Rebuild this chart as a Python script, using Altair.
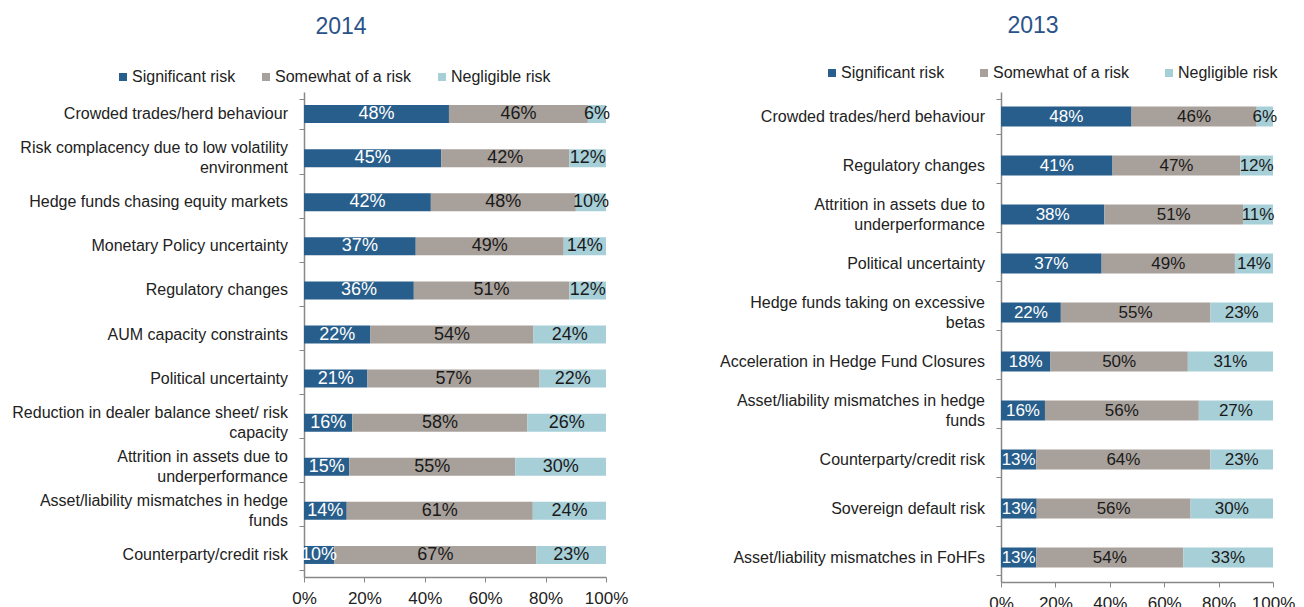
import altair as alt
import pandas as pd

risks = ["Significant risk", "Somewhat of a risk", "Negligible risk"]
colors = ["#285e8b", "#a8a19b", "#a7cfd8"]

cats_2014 = [
    "Crowded trades/herd behaviour",
    "Risk complacency due to low volatility|environment",
    "Hedge funds chasing equity markets",
    "Monetary Policy uncertainty",
    "Regulatory changes",
    "AUM capacity constraints",
    "Political uncertainty",
    "Reduction in dealer balance sheet/ risk|capacity",
    "Attrition in assets due to|underperformance",
    "Asset/liability mismatches in hedge|funds",
    "Counterparty/credit risk",
]
sig_2014 = [48, 45, 42, 37, 36, 22, 21, 16, 15, 14, 10]
some_2014 = [46, 42, 48, 49, 51, 54, 57, 58, 55, 61, 67]
negl_2014 = [6, 12, 10, 14, 12, 24, 22, 26, 30, 24, 23]

cats_2013 = [
    "Crowded trades/herd behaviour",
    "Regulatory changes",
    "Attrition in assets due to|underperformance",
    "Political uncertainty",
    "Hedge funds taking on excessive|betas",
    "Acceleration in Hedge Fund Closures",
    "Asset/liability mismatches in hedge|funds",
    "Counterparty/credit risk",
    "Sovereign default risk",
    "Asset/liability mismatches in FoHFs",
]
sig_2013 = [48, 41, 38, 37, 22, 18, 16, 13, 13, 13]
some_2013 = [46, 47, 51, 49, 55, 50, 56, 64, 56, 54]
negl_2013 = [6, 12, 11, 14, 23, 31, 27, 23, 30, 33]

FONT = "Liberation Sans"


def make_df(cats, sig, some, negl):
    rows = []
    for i, c in enumerate(cats):
        for j, v in enumerate([sig[i], some[i], negl[i]]):
            rows.append({"cat": c, "risk": risks[j], "order": j, "value": v,
                         "label": f"{v}%"})
    return pd.DataFrame(rows)


def panel(df, cats, title, w, h, bar, lx, ly, cpad, tdx, toff, tsize):
    base = alt.Chart(df).transform_stack(
        stack="value", as_=["x0", "x1"], groupby=["cat"],
        sort=[alt.SortField("order")], offset="normalize"
    ).transform_calculate(mid="(datum.x0 + datum.x1) / 2")

    yaxis = alt.Axis(labels=False, tickBand="extent", tickSize=5,
                     tickColor="#888", domainColor="#888", domainWidth=1.5)
    yenc = alt.Y("cat:N", sort=cats, title=None,
                 scale=alt.Scale(paddingInner=0.3, paddingOuter=0.15), axis=yaxis)
    bars = base.mark_bar(size=bar).encode(
        x=alt.X("x0:Q", scale=alt.Scale(domain=[0, 1]), title=None,
                axis=alt.Axis(format=".0%", values=[0, 0.2, 0.4, 0.6, 0.8, 1.0],
                              labelOverlap=False, labelFlush=False,
                              labelFont=FONT, labelFontSize=17, labelColor="#222",
                              grid=False, tickSize=5, tickColor="#888",
                              domainColor="#888", domainWidth=1.5, labelPadding=8)),
        x2="x1:Q",
        y=yenc,
        color=alt.Color("risk:N", scale=alt.Scale(domain=risks, range=colors),
                        legend=alt.Legend(title=None, orient="none", direction="horizontal",
                                          legendX=lx, legendY=ly, symbolType="square",
                                          symbolSize=64, symbolStrokeWidth=0,
                                          labelFont=FONT, labelFontSize=16,
                                          labelColor="#222", columnPadding=cpad,
                                          labelOffset=1)),
        order=alt.Order("order:Q"),
    )
    text = base.mark_text(font=FONT, fontSize=tsize).encode(
        x=alt.X("mid:Q"),
        y=alt.Y("cat:N", sort=cats),
        text="label:N",
        color=alt.condition("datum.order == 0", alt.value("white"), alt.value("#1a1a1a")),
    )
    lab_base = alt.Chart(df).transform_filter("datum.order == 0")
    lab1 = lab_base.transform_filter("indexof(datum.cat, '|') < 0").mark_text(
        font=FONT, fontSize=16, color="#222", align="right", baseline="middle"
    ).encode(x=alt.value(-16), y=alt.Y("cat:N", sort=cats), text="cat:N")
    lab2 = lab_base.transform_filter("indexof(datum.cat, '|') >= 0").mark_text(
        font=FONT, fontSize=16, color="#222", align="right", baseline="middle",
        lineBreak="|", lineHeight=20, dy=-10
    ).encode(x=alt.value(-16), y=alt.Y("cat:N", sort=cats), text="cat:N")
    return alt.layer(bars, text, lab1, lab2).properties(
        width=w, height=h,
        title=alt.TitleParams(title, font=FONT, fontSize=23, fontWeight="normal",
                              color="#2a5289", anchor="middle", dx=tdx, offset=toff),
    )


left = panel(make_df(cats_2014, sig_2014, some_2014, negl_2014), cats_2014, "2014",
             302, 485, 18, -189, -23, 22, -114, 30, 18)
right = panel(make_df(cats_2013, sig_2013, some_2013, negl_2013), cats_2013, "2013",
              272, 490, 20, -177, -27, 31, -104, 27, 17)

chart = alt.hconcat(left, right, spacing=91).resolve_scale(color="independent").resolve_legend(
    color="independent"
).configure_view(stroke=None).properties(
    padding={"left": 4, "top": 7, "right": 0, "bottom": 0}
)
chart.save("out.html", embed_options={"renderer": "svg", "actions": False})
